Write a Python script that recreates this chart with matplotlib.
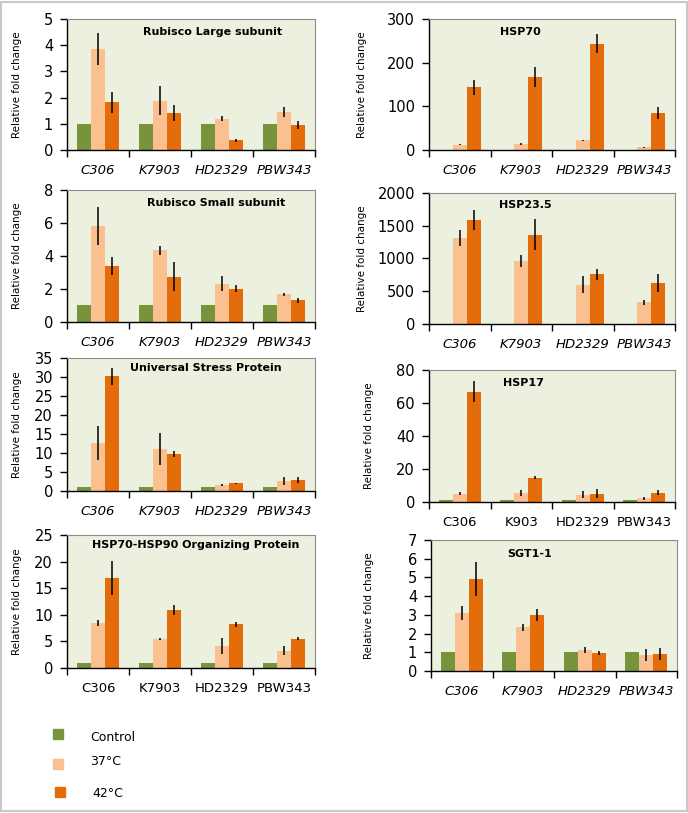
# Relative fold change of stress genes in four wheat cultivars (Control, 37°C, 42°C).
# Output: out.png

import matplotlib.pyplot as plt
import matplotlib.patches as mpatches
import numpy as np

plt.rcParams["font.family"] = ["DejaVu Sans"]

CULTIVARS = ["C306", "K7903", "HD2329", "PBW343"]
CULTIVARS_HSP17 = ["C306", "K903", "HD2329", "PBW343"]
SERIES = ["Control", "37°C", "42°C"]
COLORS = ["#77933C", "#FAC090", "#E46C0A"]

# Panel titles
TITLES = [
    "Rubisco Large subunit", "HSP70",
    "Rubisco Small subunit", "HSP23.5",
    "Universal Stress Protein", "HSP17",
    "HSP70-HSP90 Organizing Protein", "SGT1-1",
]

# Control values (reference = 1)
CONTROL = [1, 1, 1, 1]

# 37°C means and errors, one list per panel
T37 = [
    [3.85, 1.88, 1.20, 1.45],
    [12, 14, 22, 6],
    [5.81, 4.35, 2.33, 1.68],
    [1313, 967, 600, 331],
    [12.6, 11.0, 1.6, 2.7],
    [5.1, 5.5, 4.5, 2.2],
    [8.4, 5.5, 4.1, 3.2],
    [3.09, 2.34, 1.12, 0.86],
]
T37_ERR = [
    [0.62, 0.55, 0.10, 0.18],
    [1, 2, 1, 1],
    [1.16, 0.27, 0.43, 0.10],
    [127, 90, 128, 43],
    [4.5, 4.2, 0.2, 1.1],
    [1.0, 2.0, 2.0, 1.0],
    [0.55, 0.2, 1.5, 0.85],
    [0.36, 0.18, 0.16, 0.30],
]

# 42°C means and errors
T42 = [
    [1.83, 1.42, 0.37, 0.95],
    [144, 167, 243, 84],
    [3.40, 2.73, 2.02, 1.32],
    [1583, 1364, 758, 626],
    [30.2, 9.8, 2.0, 2.9],
    [66.8, 14.6, 5.1, 5.7],
    [16.9, 10.9, 8.2, 5.5],
    [4.91, 3.00, 0.95, 0.91],
]
T42_ERR = [
    [0.40, 0.30, 0.05, 0.15],
    [17, 23, 22, 14],
    [0.56, 0.88, 0.20, 0.14],
    [150, 235, 85, 143],
    [2.2, 0.8, 0.2, 0.9],
    [6.4, 0.9, 2.7, 1.5],
    [3.2, 1.0, 0.45, 0.25],
    [0.9, 0.32, 0.12, 0.30],
]

YMAX = [5, 300, 8, 2000, 35, 80, 25, 7]
YSTEP = [1, 100, 2, 500, 5, 20, 5, 1]
ITALIC = [True, True, True, True, True, False, False, True]

# layout in pixels: left, top, right, bottom of each plot area
BOXES = [
    (67, 19, 315, 150), (429, 19, 675, 150),
    (67, 190, 315, 322), (429, 193, 675, 324),
    (67, 358, 315, 491), (429, 370, 675, 502),
    (67, 535, 315, 668), (431, 540, 677, 671),
]
TITLE_POS = [
    (0.585, 0.90), (0.37, 0.90),
    (0.60, 0.90), (0.39, 0.91),
    (0.56, 0.925), (0.385, 0.90),
    (0.52, 0.925), (0.40, 0.89),
]
YLABEL_X = [22, 367, 22, 367, 22, 374, 22, 374]  # right edge of the rotated label

W, H = 688, 813


def main():
    fig = plt.figure(figsize=(W / 100, H / 100), dpi=100)
    fig.patch.set_facecolor("white")
    # light grey frame round the whole figure
    fig.add_artist(mpatches.Rectangle((0.001, 0.002), 0.997, 0.996, transform=fig.transFigure,
                                      fill=False, edgecolor="#c8c8c8", linewidth=1.5))

    x = np.arange(len(CULTIVARS))
    bw = 0.225
    for i in range(8):
        l, t, r, b = BOXES[i]
        ax = fig.add_axes([l / W, 1 - b / H, (r - l) / W, (b - t) / H])
        ax.set_facecolor("#EBF1DE")
        ekw = dict(ecolor="black", elinewidth=1.1, capsize=0)
        ax.bar(x - bw, CONTROL, bw, color=COLORS[0], zorder=2)
        ax.bar(x, T37[i], bw, yerr=T37_ERR[i], color=COLORS[1], error_kw=ekw, zorder=2)
        ax.bar(x + bw, T42[i], bw, yerr=T42_ERR[i], color=COLORS[2], error_kw=ekw, zorder=2)

        ax.set_xlim(-0.5, 3.5)
        ax.set_ylim(0, YMAX[i])
        ax.set_yticks(np.arange(0, YMAX[i] + 1, YSTEP[i]))
        ax.set_xticks(x)
        labels = CULTIVARS_HSP17 if i == 5 else CULTIVARS
        ax.set_xticklabels(labels, fontsize=9.5, style="italic" if ITALIC[i] else "normal")
        ax.set_xticks(np.arange(-0.5, 4, 1), minor=True)
        ax.tick_params(axis="x", which="major", length=0, pad=10)
        ax.tick_params(axis="x", which="minor", length=5, width=1, direction="out")
        ax.tick_params(axis="y", length=5, width=1, pad=5, labelsize=10.5)

        for s in ["top", "right"]:
            ax.spines[s].set_color("#8c8c8c")
            ax.spines[s].set_linewidth(0.8)
        for s in ["left", "bottom"]:
            ax.spines[s].set_color("black")
            ax.spines[s].set_linewidth(1.0)

        ax.set_ylabel("Relative fold change", fontsize=7.5)
        ax.yaxis.set_label_coords((YLABEL_X[i] - l) / (r - l), 0.5)
        tx, ty = TITLE_POS[i]
        ax.text(tx, ty, TITLES[i], transform=ax.transAxes, ha="center", va="center",
                fontsize=8, fontweight="bold")

    # legend
    sq = [(53, 729), (53, 759), (55, 787)]
    txt = [(90, 737), (90, 761), (92, 793)]
    for k in range(3):
        sx, sy = sq[k]
        fig.add_artist(mpatches.Rectangle((sx / W, 1 - (sy + 10) / H), 10 / W, 10 / H,
                                          transform=fig.transFigure, color=COLORS[k]))
        fig.text(txt[k][0] / W, 1 - txt[k][1] / H, SERIES[k], fontsize=9, va="center")

    fig.savefig("out.png", dpi=100)


if __name__ == "__main__":
    main()
